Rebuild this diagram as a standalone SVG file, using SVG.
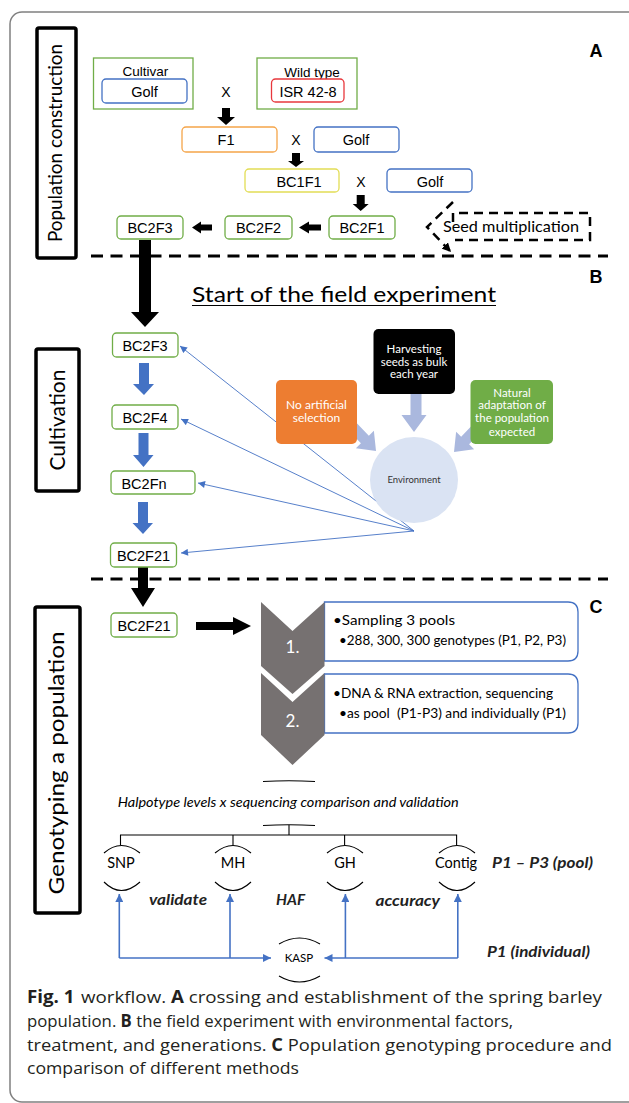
<svg xmlns="http://www.w3.org/2000/svg" width="629" height="1103" viewBox="0 0 629 1103">
<style>
.ar{font-family:"Liberation Sans",Arial,sans-serif;fill:#000}
.cb{font-family:Lato,"Open Sans",sans-serif}
.box{fill:#fff;stroke-width:1.3}
.bl{stroke:#4472C4}
.gr{stroke:#70AD47}
.lbl{font-family:"Liberation Sans",Arial,sans-serif;font-size:14.5px;text-anchor:middle}
.sep{stroke:#000;stroke-width:3;stroke-dasharray:12 7.5;fill:none}
.side{fill:#fff;stroke:#000;stroke-width:3.5}
.side-t{font-family:Lato,"Open Sans",sans-serif;fill:#000;text-anchor:middle}
.wt{font-family:Lato,"Open Sans",sans-serif;fill:#fff;text-anchor:middle}
.thin{stroke:#4472C4;stroke-width:0.9;fill:none}
.kc{stroke:#4472C4;stroke-width:1.6;fill:none}
.arc{stroke:#000;stroke-width:1.1;fill:none}
.bi{font-family:Lato,"Open Sans",sans-serif;font-weight:bold;font-style:italic;fill:#222}
.cap{font-family:"Open Sans","Noto Sans",sans-serif;font-size:17px;fill:#231f20}
</style>
<defs>
<marker id="ahs" viewBox="0 0 10 10" refX="10" refY="5" markerWidth="8" markerHeight="7" markerUnits="userSpaceOnUse" orient="auto"><path d="M0,0 L10,5 L0,10 z" fill="#4472C4"/></marker>
<marker id="ahk" viewBox="0 0 10 10" refX="10" refY="5" markerWidth="9" markerHeight="8" markerUnits="userSpaceOnUse" orient="auto"><path d="M0,0 L10,5 L0,10 z" fill="#4472C4"/></marker>
<marker id="ahb" viewBox="0 0 10 10" refX="10" refY="5" markerWidth="9" markerHeight="9" markerUnits="userSpaceOnUse" orient="auto"><path d="M0,0 L10,5 L0,10 z" fill="#000"/></marker>
</defs>

<rect x="10" y="12" width="640" height="1090" rx="12" fill="none" stroke="#808080" stroke-width="1.5"/>

<!-- side labels -->
<g id="side-population">
<rect class="side" x="37" y="28" width="39" height="230" rx="2"/>
<text class="side-t" font-size="20" transform="translate(62,143) rotate(-90)" textLength="198" lengthAdjust="spacingAndGlyphs">Population construction</text>
</g>
<g id="side-cultivation">
<rect class="side" x="36" y="349" width="43" height="142" rx="2"/>
<text class="side-t" font-size="21" transform="translate(65,420) rotate(-90)" textLength="101" lengthAdjust="spacingAndGlyphs">Cultivation</text>
</g>
<g id="side-genotyping">
<rect class="side" x="35" y="607" width="45" height="306" rx="2"/>
<text class="side-t" font-size="22" transform="translate(64,763) rotate(-90)" textLength="263" lengthAdjust="spacingAndGlyphs">Genotyping a population</text>
</g>

<!-- section letters -->
<g id="letters" class="ar" font-size="18" font-weight="bold" text-anchor="middle">
<text x="596" y="57">A</text>
<text x="596" y="283">B</text>
<text x="596" y="613">C</text>
</g>

<!-- separators -->
<g id="separators">
<line class="sep" x1="91" y1="256" x2="608" y2="256"/>
<line class="sep" x1="91" y1="579" x2="608" y2="579"/>
</g>

<!-- connectors -->
<g id="connectors">
<!-- section A black arrows -->
<polygon points="222,108 230,108 230,117 235,117 226,125 217,117 222,117" fill="#000"/>
<polygon points="292,153 300,153 300,161 304,161 296,167 288,161 292,161" fill="#000"/>
<polygon points="356.7,195 364.7,195 364.7,204 368.7,204 360.7,211 352.7,204 356.7,204" fill="#000"/>
<polygon points="321,224.5 309,224.5 309,221.5 299,227.5 309,233.5 309,230.5 321,230.5" fill="#000"/>
<polygon points="212,224.5 201,224.5 201,221.5 192,227.5 201,233.5 201,230.5 212,230.5" fill="#000"/>
<polygon points="139,240 151,240 151,312 159,312 145,327 131,312 139,312" fill="#000"/>
<!-- seed multiplication callout -->
<path d="M453,202 L427,227 L451,252" fill="none" stroke="#000" stroke-width="2.5" stroke-dasharray="9 6" marker-end="url(#ahb)"/>
<!-- section B blue block arrows -->
<polygon points="139,363 149,363 149,384 154,384 144,395 133,384 139,384" fill="#4472C4"/>
<polygon points="138.5,433 148.5,433 148.5,455 153.5,455 143.5,467 133,455 138.5,455" fill="#4472C4"/>
<polygon points="138,502 148,502 148,523 153,523 143,534 132.5,523 138,523" fill="#4472C4"/>
<!-- environment thin arrows -->
<line class="thin" x1="414" y1="531" x2="180" y2="346" marker-end="url(#ahs)"/>
<line class="thin" x1="414" y1="531" x2="181" y2="419" marker-end="url(#ahs)"/>
<line class="thin" x1="414" y1="531" x2="198" y2="483" marker-end="url(#ahs)"/>
<line class="thin" x1="414" y1="531" x2="181" y2="553" marker-end="url(#ahs)"/>
<!-- light block arrows -->
<polygon points="410.5,394 421.5,394 421.5,415 426.5,415 414,432 401.5,415 410.5,415" fill="#AAB8DE"/>
<polygon points="-36,-5.5 -16,-5.5 -16,-12.5 0,0 -16,12.5 -16,5.5 -36,5.5" fill="#AAB8DE" transform="translate(376,451) rotate(46)"/>
<polygon points="-36,-5.5 -16,-5.5 -16,-12.5 0,0 -16,12.5 -16,5.5 -36,5.5" fill="#AAB8DE" transform="translate(454,452) rotate(134)"/>
<!-- BC2F21 down arrow -->
<polygon points="138,567 148,567 148,588 155,588 143,607 131,588 138,588" fill="#000"/>
<!-- C right arrow -->
<polygon points="196,622 233,622 233,617 251,626 233,635 233,630 196,630" fill="#000"/>
<!-- tree lines -->
<path d="M289,825 V835 M120.5,845 V835 H456.6 V845 M233,835 V845 M344.6,835 V845" fill="none" stroke="#000" stroke-width="1.1"/>
<!-- KASP connectors -->
<path class="kc" d="M119.3,958 V894" marker-end="url(#ahk)"/>
<path class="kc" d="M230,958 V894" marker-end="url(#ahk)"/>
<path class="kc" d="M345.4,958 V894" marker-end="url(#ahk)"/>
<path class="kc" d="M457.8,958 V894" marker-end="url(#ahk)"/>
<path class="kc" d="M119.3,958 H271" marker-end="url(#ahk)"/>
<path class="kc" d="M457.8,958 H324.5" marker-end="url(#ahk)"/>
</g>

<!-- section A nodes -->
<g id="cultivar">
<rect x="93.5" y="58" width="99.5" height="51" fill="none" stroke="#70AD47" stroke-width="1.3"/>
<text class="ar" x="145.5" y="76" font-size="13.5" text-anchor="middle">Cultivar</text>
<rect class="box bl" x="102" y="79" width="85" height="24" rx="4"/>
<text class="lbl" x="144.5" y="97">Golf</text>
</g>
<text class="ar" x="226" y="97" font-size="14" text-anchor="middle">X</text>
<g id="wildtype">
<rect x="257" y="58" width="100" height="51" fill="none" stroke="#70AD47" stroke-width="1.3"/>
<text class="ar" x="312" y="77" font-size="13.5" text-anchor="middle">Wild type</text>
<rect class="box" x="271.5" y="79" width="72.5" height="23" rx="4" stroke="#E8383D"/>
<text class="lbl" x="308" y="97">ISR 42-8</text>
</g>
<g id="f1">
<rect class="box" x="182" y="127" width="95" height="25" rx="4" stroke="#F5A54A"/>
<text class="lbl" x="226" y="145">F1</text>
</g>
<text class="ar" x="296" y="145" font-size="14" text-anchor="middle">X</text>
<g id="golf2">
<rect class="box bl" x="314" y="127" width="85" height="25" rx="4"/>
<text class="lbl" x="356" y="145">Golf</text>
</g>
<g id="bc1f1">
<rect class="box" x="245" y="169" width="94" height="23" rx="4" stroke="#E2DD55"/>
<text class="lbl" x="299" y="187">BC1F1</text>
</g>
<text class="ar" x="361" y="187" font-size="14" text-anchor="middle">X</text>
<g id="golf3">
<rect class="box bl" x="387" y="169" width="85" height="23" rx="4"/>
<text class="lbl" x="430" y="187">Golf</text>
</g>
<g id="bc2f1">
<rect class="box gr" x="329" y="216" width="66" height="23" rx="4"/>
<text class="lbl" x="362" y="233">BC2F1</text>
</g>
<g id="bc2f2">
<rect class="box gr" x="225" y="216" width="67" height="23" rx="4"/>
<text class="lbl" x="258.5" y="233">BC2F2</text>
</g>
<g id="bc2f3a">
<rect class="box gr" x="117" y="216" width="66" height="23" rx="4"/>
<text class="lbl" x="150" y="233">BC2F3</text>
</g>
<g id="seed-multiplication">
<path d="M453,222 V213 H590 V240 H455" fill="none" stroke="#000" stroke-width="2.5" stroke-dasharray="9 6"/>
<text class="cb" x="443" y="232" font-size="15" textLength="136" lengthAdjust="spacingAndGlyphs">Seed multiplication</text>
</g>

<!-- section B -->
<g id="field-title">
<text class="cb" x="192" y="302" font-size="21" textLength="304" lengthAdjust="spacingAndGlyphs">Start of the field experiment</text>
<line x1="192" y1="305.5" x2="496" y2="305.5" stroke="#000" stroke-width="1.2"/>
</g>
<g id="bc2f3b">
<rect class="box gr" x="112.5" y="333" width="65.5" height="24" rx="4"/>
<text class="lbl" x="145" y="351">BC2F3</text>
</g>
<g id="bc2f4">
<rect class="box gr" x="112" y="405" width="66" height="24" rx="4"/>
<text class="lbl" x="145" y="423">BC2F4</text>
</g>
<g id="bc2fn">
<rect class="box gr" x="111" y="471" width="84" height="23" rx="4"/>
<text class="lbl" x="144" y="489">BC2Fn</text>
</g>
<g id="bc2f21b">
<rect class="box gr" x="110.5" y="543" width="66" height="24" rx="4"/>
<text class="lbl" x="143.5" y="561">BC2F21</text>
</g>
<g id="no-selection">
<rect x="276" y="380" width="81" height="64" rx="5" fill="#ED7D31"/>
<text class="wt" x="316.5" y="409" font-size="12">No artificial</text>
<text class="wt" x="316.5" y="422" font-size="12">selection</text>
</g>
<g id="harvesting">
<rect x="373.5" y="329" width="81.5" height="65" rx="5" fill="#000"/>
<text class="wt" x="414" y="353" font-size="11.5">Harvesting</text>
<text class="wt" x="414" y="366" font-size="11.5">seeds as bulk</text>
<text class="wt" x="414" y="378" font-size="11.5">each year</text>
</g>
<g id="natural-adaptation">
<rect x="470.5" y="380" width="82.5" height="64" rx="5" fill="#70AD47"/>
<text class="wt" x="512" y="397" font-size="11.5">Natural</text>
<text class="wt" x="512" y="409" font-size="11.5">adaptation of</text>
<text class="wt" x="512" y="422" font-size="11.5">the population</text>
<text class="wt" x="512" y="436" font-size="11.5">expected</text>
</g>
<g id="environment">
<ellipse cx="414" cy="480" rx="44" ry="43" fill="#DAE3F3"/>
<text class="cb" x="414" y="483" font-size="9.5" fill="#333" text-anchor="middle">Environment</text>
</g>

<!-- section C -->
<g id="bc2f21c">
<rect class="box gr" x="111" y="613" width="66" height="24" rx="4"/>
<text class="lbl" x="144" y="631">BC2F21</text>
</g>
<g id="step1">
<path d="M324.5,602 H568 Q578,602 578,612 V651 Q578,661 568,661 H324.5 Z" fill="#fff" stroke="#4472C4" stroke-width="1.3"/>
<polygon points="261,602 292.5,631 324.5,602 324.5,666 292.5,694 261,666" fill="#767171"/>
<text class="wt" x="292.5" y="653" font-size="17">1.</text>
<text class="cb" x="333" y="625" font-size="13" textLength="122" lengthAdjust="spacingAndGlyphs">•Sampling 3 pools</text>
<text class="cb" x="339" y="645" font-size="13" textLength="227" lengthAdjust="spacingAndGlyphs">•288, 300, 300 genotypes (P1, P2, P3)</text>
</g>
<g id="step2">
<path d="M324.5,674 H568 Q578,674 578,684 V723 Q578,733 568,733 H324.5 Z" fill="#fff" stroke="#4472C4" stroke-width="1.3"/>
<polygon points="261,673 292.5,702 324.5,673 324.5,735 292.5,765 261,735" fill="#767171"/>
<text class="wt" x="292.5" y="727" font-size="17">2.</text>
<text class="cb" x="333" y="698" font-size="13" textLength="220" lengthAdjust="spacingAndGlyphs">•DNA &amp; RNA extraction, sequencing</text>
<text class="cb" x="339" y="718" font-size="13" textLength="227" lengthAdjust="spacingAndGlyphs" xml:space="preserve">•as pool  (P1-P3) and individually (P1)</text>
</g>
<g id="comparison">
<path class="arc" d="M263,781.5 Q289,780 315,781.5"/>
<text class="cb" x="117.7" y="807" font-size="12.5" font-style="italic" textLength="341" lengthAdjust="spacingAndGlyphs">Halpotype levels x sequencing comparison and validation</text>
<path class="arc" d="M263,825.5 Q289,824 315,825.5"/>
</g>
<g id="snp">
<path class="arc" d="M104,853 Q121,838 140,853"/>
<text class="cb" x="121" y="868" font-size="14.5" text-anchor="middle">SNP</text>
<path class="arc" d="M104,882 Q121,899 140,882"/>
</g>
<g id="mh">
<path class="arc" d="M215,853 Q233,838 251,853"/>
<text class="cb" x="233" y="868" font-size="14.5" text-anchor="middle">MH</text>
<path class="arc" d="M215,882 Q233,899 251,882"/>
</g>
<g id="gh">
<path class="arc" d="M327,853 Q345,838 363,853"/>
<text class="cb" x="345" y="868" font-size="14.5" text-anchor="middle">GH</text>
<path class="arc" d="M327,882 Q345,899 363,882"/>
</g>
<g id="contig">
<path class="arc" d="M439,853 Q457,838 475,853"/>
<text class="cb" x="456" y="868" font-size="14.5" text-anchor="middle">Contig</text>
<path class="arc" d="M439,882 Q457,899 475,882"/>
</g>
<text class="bi" x="492" y="868" font-size="15" textLength="101" lengthAdjust="spacingAndGlyphs">P1 – P3 (pool)</text>
<text class="bi" x="149" y="905" font-size="15" textLength="58" lengthAdjust="spacingAndGlyphs">validate</text>
<text class="bi" x="276" y="905" font-size="15" textLength="29" lengthAdjust="spacingAndGlyphs">HAF</text>
<text class="bi" x="375.5" y="906" font-size="15" textLength="64.5" lengthAdjust="spacingAndGlyphs">accuracy</text>
<g id="kasp">
<path class="arc" d="M279,944 Q299.5,932 320,944"/>
<text class="cb" x="299" y="962" font-size="11.5" text-anchor="middle">KASP</text>
<path class="arc" d="M279,976 Q299.5,988 320,976"/>
</g>
<text class="bi" x="487" y="957" font-size="15" textLength="103" lengthAdjust="spacingAndGlyphs">P1 (individual)</text>

<!-- caption -->
<g id="caption" class="cap">
<text x="27" y="1003" textLength="575" lengthAdjust="spacingAndGlyphs"><tspan font-weight="bold">Fig. 1</tspan><tspan dx="6">workflow. </tspan><tspan font-weight="bold">A</tspan> crossing and establishment of the spring barley</text>
<text x="27" y="1027" textLength="486" lengthAdjust="spacingAndGlyphs">population. <tspan font-weight="bold">B</tspan> the field experiment with environmental factors,</text>
<text x="27" y="1051" textLength="585" lengthAdjust="spacingAndGlyphs">treatment, and generations. <tspan font-weight="bold">C</tspan> Population genotyping procedure and</text>
<text x="27" y="1074" textLength="272" lengthAdjust="spacingAndGlyphs">comparison of different methods</text>
</g>
</svg>
